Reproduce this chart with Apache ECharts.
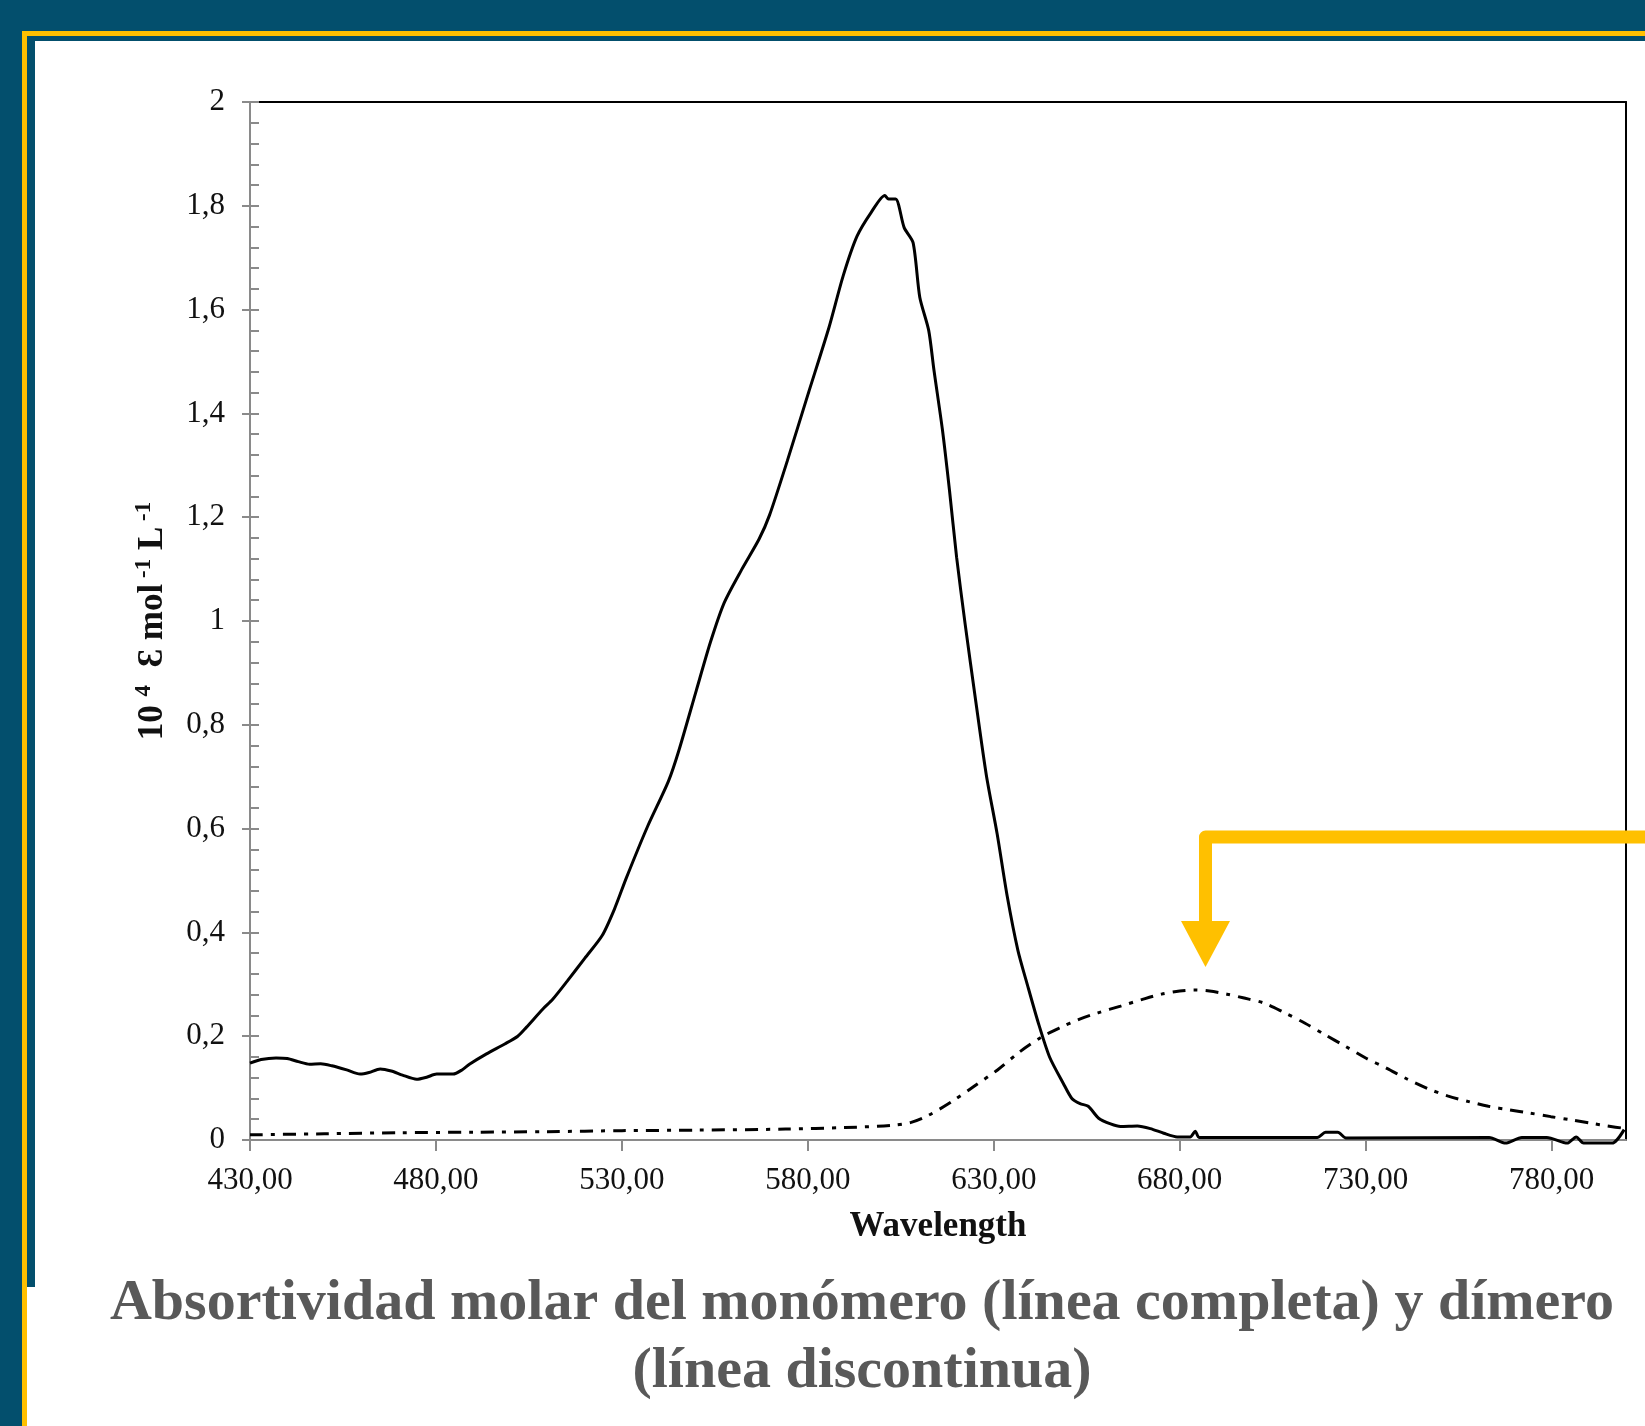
<!DOCTYPE html>
<html>
<head>
<meta charset="utf-8">
<script src="https://cdn.jsdelivr.net/npm/echarts@6/dist/echarts.min.js"></script>
<style>
  html, body { margin: 0; padding: 0; background: #034f6d; }
  #chart { width: 1645px; height: 1426px; }
</style>
</head>
<body>
<div id="chart"></div>
<script>
// monomer (solid line)
const monoWavelength = [430, 433, 437, 440, 443, 446, 449, 452, 456, 459.6, 462, 465, 468, 471, 474.8, 477.5, 480.2, 484.6, 487, 489, 493.6, 498.5, 502, 504.3, 508.7, 511.4, 515.3, 520, 524.7, 528, 531.2, 536.9, 542.5, 545.3, 550, 553.8, 557.5, 562.2, 566.9, 569.7, 574.5, 580.1, 585.7, 589.5, 593.2, 597, 600.7, 601.7, 603.6, 605.9, 608.3, 610.1, 612.5, 613.9, 616.2, 618.1, 620, 622.3, 625.2, 628, 630.9, 633.6, 636.5, 639, 642, 645, 648.7, 651, 653.2, 655.4, 658.2, 661.4, 664.1, 668.6, 672.1, 675.7, 679.3, 682.8, 684.2, 685.2, 700, 717, 719.2, 722.5, 724.7, 763.2, 767.6, 772, 778.7, 784.2, 786.6, 788.6, 796.3, 799.5];
const monoValue = [0.148, 0.155, 0.158, 0.157, 0.151, 0.146, 0.147, 0.143, 0.135, 0.127, 0.130, 0.137, 0.133, 0.125, 0.117, 0.121, 0.127, 0.127, 0.135, 0.146, 0.166, 0.185, 0.200, 0.217, 0.252, 0.271, 0.306, 0.350, 0.394, 0.445, 0.505, 0.604, 0.691, 0.750, 0.866, 0.959, 1.035, 1.099, 1.158, 1.204, 1.309, 1.438, 1.566, 1.665, 1.741, 1.787, 1.820, 1.813, 1.813, 1.758, 1.729, 1.624, 1.560, 1.484, 1.368, 1.251, 1.123, 0.994, 0.843, 0.703, 0.590, 0.470, 0.365, 0.300, 0.225, 0.160, 0.109, 0.080, 0.070, 0.065, 0.042, 0.031, 0.026, 0.027, 0.022, 0.013, 0.006, 0.006, 0.017, 0.005, 0.005, 0.005, 0.015, 0.015, 0.004, 0.005, -0.006, 0.005, 0.005, -0.006, 0.006, -0.006, -0.006, 0.020];

// dimer (dash-dot line)
const dimerWavelength = [430, 450, 470, 490, 510, 530, 550, 574, 590, 602.5, 607.8, 612.3, 618.5, 625, 631, 637, 643, 648, 653.1, 658, 664.1, 670, 675.1, 680, 684, 688, 692.7, 697, 702.6, 708, 713.7, 719, 724.7, 730, 735.7, 741, 746.7, 752, 757.7, 763, 768.7, 774, 779.8, 785, 790.8, 795, 800];
const dimerValue = [0.010, 0.012, 0.014, 0.015, 0.016, 0.018, 0.019, 0.021, 0.024, 0.028, 0.034, 0.047, 0.073, 0.105, 0.135, 0.170, 0.199, 0.217, 0.233, 0.245, 0.258, 0.271, 0.281, 0.287, 0.289, 0.287, 0.281, 0.274, 0.264, 0.246, 0.225, 0.203, 0.180, 0.158, 0.138, 0.118, 0.099, 0.085, 0.074, 0.065, 0.058, 0.052, 0.045, 0.039, 0.032, 0.027, 0.022];

const xTickLabels = ['430,00', '480,00', '530,00', '580,00', '630,00', '680,00', '730,00', '780,00'];
const yTickLabels = ['0', '0,2', '0,4', '0,6', '0,8', '1', '1,2', '1,4', '1,6', '1,8', '2'];

const serif = '"Liberation Serif", "Times New Roman", serif';
const blue = '#034f6d';
const gold = '#ffc000';
const axisGray = '#8a8a8a';

const chart = echarts.init(document.getElementById('chart'));

const xLabel = (v) => {
  const i = (v - 430) / 50;
  return Number.isInteger(i) ? xTickLabels[i] : '';
};
const yLabel = (v) => {
  const i = Math.round(v / 0.2);
  return Math.abs(v - i * 0.2) < 1e-6 ? yTickLabels[i] : '';
};

const option = {
  backgroundColor: blue,
  animation: false,
  grid: { left: 250, right: 19, top: 102, bottom: 286, containLabel: false },
  xAxis: [{
    type: 'value',
    position: 'bottom',
    min: 430,
    max: 800,
    interval: 50,
    name: 'Wavelength',
    nameLocation: 'middle',
    nameGap: 69,
    nameTextStyle: { fontFamily: serif, fontSize: 35, fontWeight: 'bold', color: '#111' },
    axisLine: { onZero: false, lineStyle: { color: axisGray, width: 2 } },
    axisTick: { show: true, inside: false, length: 11, lineStyle: { color: axisGray, width: 2 } },
    axisLabel: { formatter: xLabel, showMaxLabel: false, margin: 25, fontFamily: serif, fontSize: 31, color: '#111' },
    splitLine: { show: false }
  }, {
    // top frame line
    type: 'value',
    position: 'top',
    min: 430,
    max: 800,
    axisLine: { show: true, onZero: false, lineStyle: { color: '#000', width: 2 } },
    axisTick: { show: false },
    axisLabel: { show: false },
    splitLine: { show: false }
  }],
  yAxis: [{
    type: 'value',
    position: 'left',
    min: 0,
    max: 2,
    interval: 0.2,
    name: '{a|10 }{s|4}{a|  Ɛ mol}{s| -1}{a| L}{s| -1}',
    nameLocation: 'middle',
    nameGap: 77,
    nameTextStyle: {
      rich: {
        a: { fontFamily: serif, fontSize: 35, fontWeight: 'bold', color: '#111', lineHeight: 40 },
        s: { fontFamily: serif, fontSize: 23, fontWeight: 'bold', color: '#111', verticalAlign: 'top', lineHeight: 40 }
      }
    },
    axisLine: { show: true, onZero: false, lineStyle: { color: axisGray, width: 2 } },
    axisTick: { show: true, inside: false, length: 8, lineStyle: { color: axisGray, width: 2 } },
    axisLabel: { formatter: yLabel, margin: 25, fontFamily: serif, fontSize: 31, color: '#111' },
    splitLine: { show: false }
  }, {
    // inner half of the crossing ticks + minor ticks
    type: 'value',
    position: 'left',
    min: 0,
    max: 2,
    interval: 0.2,
    axisLine: { show: false, onZero: false },
    axisTick: { show: true, inside: true, length: 9, lineStyle: { color: axisGray, width: 2 } },
    minorTick: { show: true, splitNumber: 5, length: 9, lineStyle: { color: axisGray, width: 2 } },
    axisLabel: { show: false },
    splitLine: { show: false }
  }, {
    // right frame line
    type: 'value',
    position: 'right',
    min: 0,
    max: 2,
    axisLine: { show: true, onZero: false, lineStyle: { color: '#000', width: 2 } },
    axisTick: { show: false },
    axisLabel: { show: false },
    splitLine: { show: false }
  }],
  series: [{
    name: 'Monómero',
    type: 'line',
    data: monoWavelength.map((w, i) => [w, monoValue[i]]),
    symbol: 'none',
    smooth: 0.25,
    clip: false,
    lineStyle: { color: '#000', width: 3 }
  }, {
    name: 'Dímero',
    type: 'line',
    data: dimerWavelength.map((w, i) => [w, dimerValue[i]]),
    symbol: 'none',
    smooth: 0.3,
    clip: false,
    lineStyle: { color: '#000', width: 3, type: [13, 8, 4, 8] }
  }],
  graphic: [
    // slide frame
    { type: 'rect', z: -10, shape: { x: 22, y: 31, width: 1700, height: 1500 }, style: { fill: gold } },
    { type: 'rect', z: -9, shape: { x: 27, y: 36, width: 1700, height: 1251 }, style: { fill: blue } },
    { type: 'rect', z: -8, shape: { x: 35, y: 41, width: 1700, height: 1500 }, style: { fill: '#fff' } },
    { type: 'rect', z: -8, shape: { x: 27, y: 1287, width: 20, height: 200 }, style: { fill: '#fff' } },
    // pointer arrow
    { type: 'polyline', z: 100, shape: { points: [[1660, 837], [1205.5, 837], [1205.5, 925]] },
      style: { stroke: gold, lineWidth: 13, lineJoin: 'round', fill: null } },
    { type: 'polygon', z: 100, shape: { points: [[1181, 921], [1230, 921], [1205.5, 967]] }, style: { fill: gold } },
    // caption
    { type: 'text', z: 100, style: { x: 862, y: 1304, text: 'Absortividad molar del monómero (línea completa) y dímero',
      textAlign: 'center', textVerticalAlign: 'middle', font: 'bold 58px ' + serif, fill: '#595959' } },
    { type: 'text', z: 100, style: { x: 862, y: 1372, text: '(línea discontinua)',
      textAlign: 'center', textVerticalAlign: 'middle', font: 'bold 58px ' + serif, fill: '#595959' } }
  ]
};

chart.setOption(option);
window.addEventListener('resize', () => chart.resize());
</script>
</body>
</html>
